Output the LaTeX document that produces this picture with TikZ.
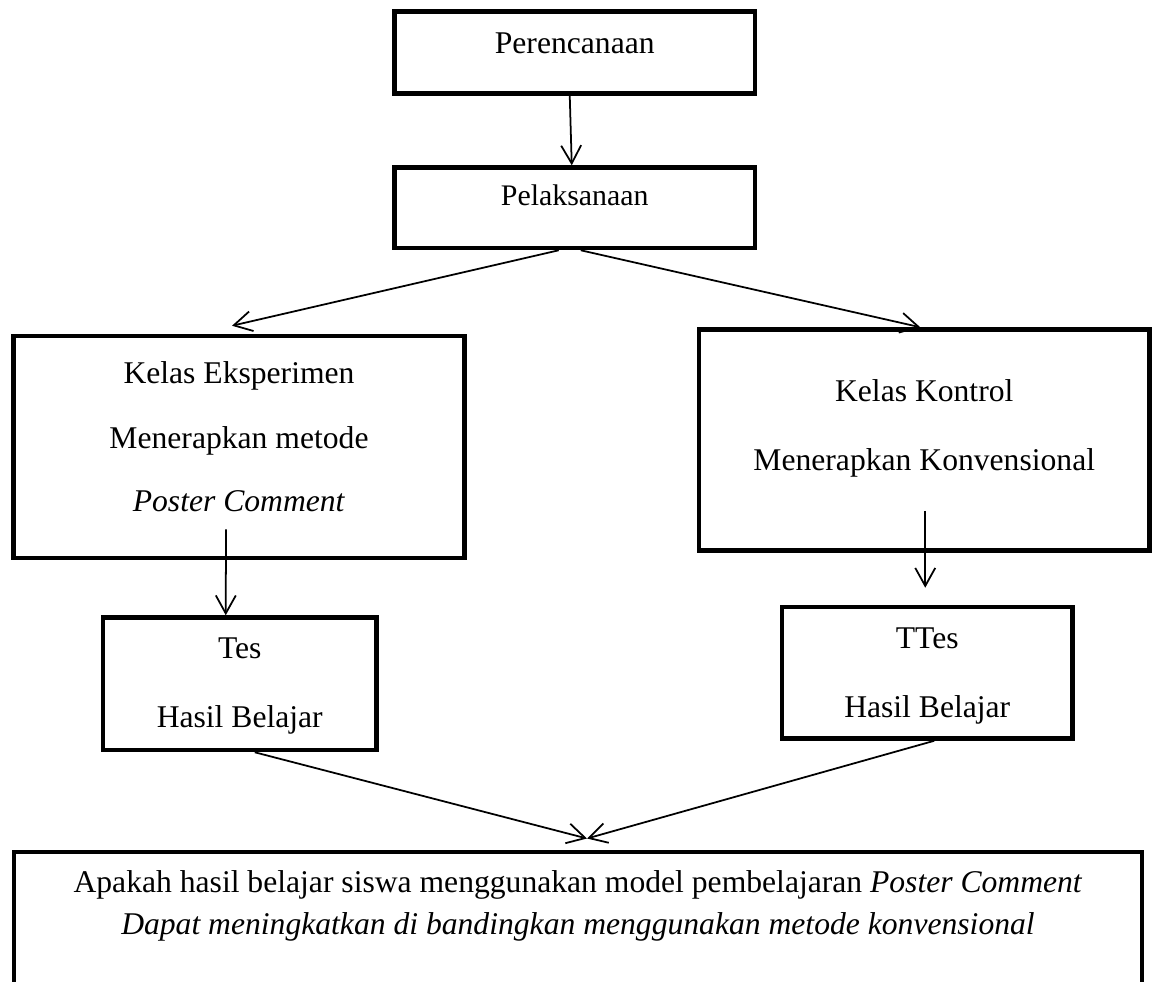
\documentclass[tikz,border=0pt]{standalone}
\usepackage{fontspec}
\setmainfont{Liberation Serif}
\usetikzlibrary{arrows.meta}

\begin{document}
\begin{tikzpicture}[x=0.02cm,y=-0.02cm,
    box/.style={draw,line width=2.6pt,inner sep=0pt,align=center,font=\fontsize{18}{39}\selectfont},
    arr/.style={-{Straight Barb[length=0.36cm,width=0.4cm]},line width=1pt}]
  \useasboundingbox (0,0) rectangle (1153,981);
  \clip (0,0) rectangle (1153,981);

  \node[box,minimum width=7.21cm,minimum height=1.64cm,text height=0.5cm,text depth=0.48cm] (plan) at (574.75,52.5) {Perencanaan};
  \node[box,font=\fontsize{17}{20}\selectfont,minimum width=7.21cm,minimum height=1.61cm,text height=0.5cm,text depth=0.61cm] (exec) at (574.75,207.75) {Pelaksanaan};

  \node[box,minimum width=9.02cm,minimum height=4.44cm,text height=3cm,text depth=0.4cm] (eks) at (239,447)
    {Kelas Eksperimen\\[-2pt]Menerapkan metode\\[-3pt]\textit{Poster Comment}};
  \node[box,minimum width=9.01cm,minimum height=4.42cm,text height=1.6cm,text depth=0.4cm] (kon) at (924.25,440)
    {Kelas Kontrol\\Menerapkan Konvensional};

  \node[box,minimum width=5.47cm,minimum height=2.65cm,text height=2.13cm,text depth=0.4cm] (tes) at (239.75,683.75)
    {Tes\\Hasil Belajar};
  \node[box,minimum width=5.81cm,minimum height=2.63cm,text height=2.17cm,text depth=0.4cm] (ttes) at (927.25,672.75)
    {TTes\\Hasil Belajar};

  \node[box,font=\fontsize{18}{23.9}\selectfont,anchor=north,minimum width=22.56cm,text height=1.65cm,text depth=1.56cm] (concl) at (578,849.5)
    {Apakah hasil belajar siswa menggunakan model pembelajaran \textit{Poster Comment}\\
     \textit{Dapat meningkatkan di bandingkan menggunakan metode konvensional}};

  % arrows
  \draw[arr] ([shift={(-5,0)}]plan.south) -- ([shift={(-3,0)}]exec.north);
  \draw[arr] ([shift={(-16,0)}]exec.south) -- ([shift={(-7,-8)}]eks.north);
  \draw[arr] ([shift={(6,0)}]exec.south) -- ([shift={(-4,0)}]kon.north);
  \draw[arr] ([shift={(-13,-31)}]eks.south) -- ([shift={(-14,0)}]tes.north);
  \draw[arr] ([shift={(1,-42)}]kon.south) -- ([shift={(-2,-17)}]ttes.north);
  \draw[arr] ([shift={(15,0)}]tes.south) -- ([shift={(9,-11)}]concl.north);
  \draw[arr] ([shift={(7,0)}]ttes.south) -- ([shift={(9,-11)}]concl.north);
\end{tikzpicture}
\end{document}
